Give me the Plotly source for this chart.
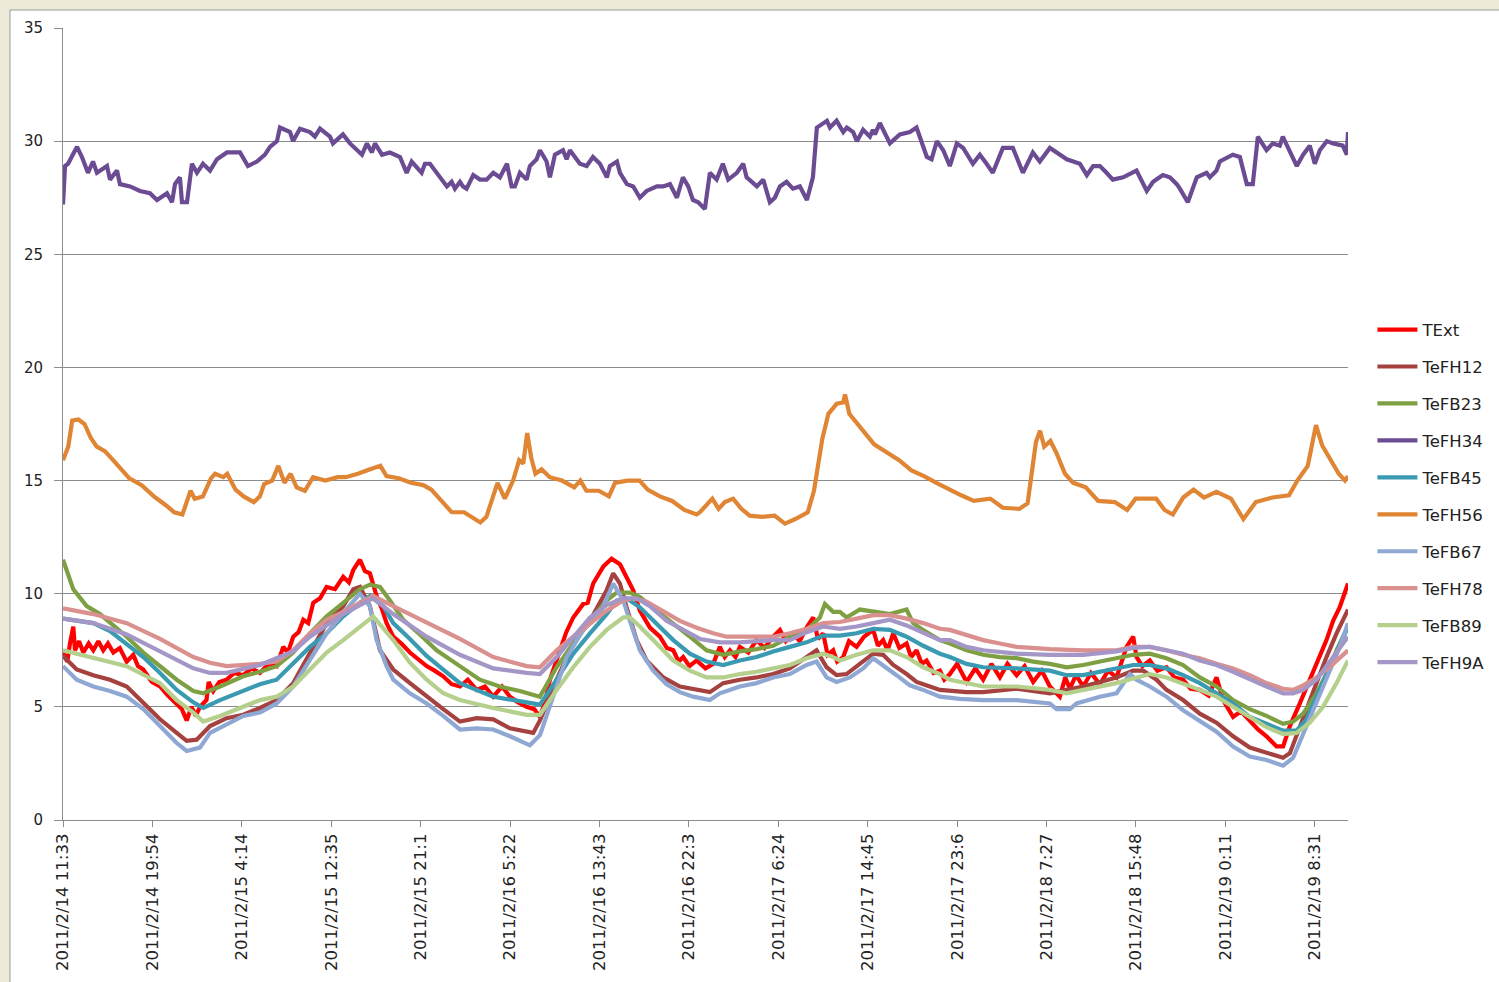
import plotly.graph_objects as go

# ---------------- data (x = sample index expressed in hours from start) ----------------
tick_labels = ["2011/2/14 11:33", "2011/2/14 19:54", "2011/2/15 4:14", "2011/2/15 12:35",
               "2011/2/15 21:1", "2011/2/16 5:22", "2011/2/16 13:43", "2011/2/16 22:3",
               "2011/2/17 6:24", "2011/2/17 14:45", "2011/2/17 23:6", "2011/2/18 7:27",
               "2011/2/18 15:48", "2011/2/19 0:11", "2011/2/19 8:31"]
samples_per_tick = 501          # one category label every 501 one-minute samples
total_samples = 7200

text_x = [0, 0.4, 0.65, 0.96, 1.12, 1.5, 1.9, 2.4, 2.83, 3.3, 3.76, 4.2, 4.7, 5.3, 5.95, 6.56, 7.0, 7.5, 8.3, 9.06,
          9.8, 10.62, 11.1, 11.55, 12.0, 12.4, 12.79, 13.4, 13.6, 14.03, 14.6, 15.28, 16.0, 16.83, 17.6, 18.39, 19.2,
          19.95, 20.57, 21.0, 21.5, 22.0, 22.44, 22.9, 23.37, 24.0, 24.62, 25.4, 26.17, 26.7, 27.11, 27.73, 28.2,
          28.66, 29.29, 29.8, 30.22, 30.84, 31.6, 32.4, 33.2, 33.96, 34.7, 35.51, 36.3, 37.07, 37.8, 38.63, 39.4,
          40.18, 41.0, 41.74, 42.5, 43.3, 44.0, 44.54, 45.0, 45.47, 46.41, 47.0, 47.65, 48.58, 49.0, 49.51, 50.45,
          51.23, 52.01, 52.63, 53.25, 53.87, 54.81, 55.74, 56.4, 56.99, 57.5, 57.92, 58.5, 59.17, 60.0, 60.72, 61.34,
          61.8, 62.28, 62.8, 63.21, 64.0, 64.77, 65.5, 66.32, 66.95, 67.5, 68.19, 68.8, 69.44, 70.06, 70.5, 70.99,
          71.4, 71.92, 72.3, 72.86, 73.4, 74.11, 74.8, 75.66, 76.1, 76.59, 77.0, 77.53, 78.1, 78.78, 79.2, 79.71,
          80.2, 80.64, 81.3, 81.89, 82.3, 82.82, 83.5, 84.38, 85.2, 85.93, 86.7, 87.49, 88.2, 89.05, 89.8, 90.6,
          91.4, 92.16, 93.09, 93.6, 94.02, 94.6, 95.27, 96.0, 96.83, 97.6, 98.38, 99.32, 99.94, 100.25, 100.8,
          101.49, 102.2, 103.05, 103.8, 104.6, 105.3, 106.16, 107.0, 107.72, 108.34, 109.27, 110.0, 110.83, 111.6,
          112.39, 113.32, 113.94, 114.57, 115.5, 116.43, 117.06, 117.99, 118.61, 119.23, 120.0]
text_y = [7.4, 7.0, 7.8, 8.55, 7.5, 7.9, 7.4, 7.8, 7.5, 7.9, 7.5, 7.8, 7.4, 7.6, 7.0, 7.3, 6.8, 6.65, 6.1, 5.9,
          5.5, 5.15, 4.9, 4.4, 5.0, 4.6, 5.0, 5.3, 6.1, 5.7, 6.1, 6.2, 6.5, 6.4, 6.7, 6.5, 6.9,
          6.8, 7.65, 7.4, 8.1, 8.3, 8.85, 8.7, 9.6, 9.8, 10.3, 10.2, 10.75, 10.5, 11.05, 11.5, 11.0,
          10.9, 9.9, 9.3, 8.7, 8.1, 7.8, 7.4, 7.1, 6.8, 6.6, 6.35, 6.0, 5.9, 6.2, 5.75, 5.9,
          5.45, 5.9, 5.45, 5.2, 5.0, 4.9, 4.55, 5.2, 6.2, 7.5, 8.3, 8.95, 9.55, 9.6, 10.45, 11.2,
          11.55, 11.3, 10.7, 10.15, 9.25, 8.5, 8.1, 7.6, 7.5, 7.0, 7.2, 6.8, 7.05, 6.7, 6.9, 7.65,
          7.2, 7.5, 7.2, 7.65, 7.4, 7.95, 7.6, 8.1, 8.4, 7.9, 8.25, 7.9, 8.5, 8.95, 8.0, 8.25,
          7.3, 7.5, 7.0, 7.2, 7.9, 7.65, 8.1, 8.4, 7.7, 7.95, 7.5, 8.25, 7.6, 7.8, 7.2, 7.5,
          6.9, 7.05, 6.5, 6.6, 6.2, 6.45, 6.9, 6.1, 6.7, 6.2, 6.9, 6.3, 6.9, 6.4, 6.8, 6.1,
          6.6, 5.9, 5.45, 6.3, 5.8, 6.4, 5.9, 6.5, 6.0, 6.6, 6.3, 7.65, 8.1, 7.2, 6.8,
          7.05, 6.6, 6.75, 6.3, 6.2, 5.8, 5.75, 5.5, 6.3, 5.3, 4.55, 4.8, 4.4, 4.0,
          3.7, 3.25, 3.25, 4.15, 5.15, 6.2, 6.9, 7.95, 8.8, 9.4, 10.45]

fh12_x = [0, 1.28, 2.83, 4.39, 5.95, 7.50, 9.06, 10.62, 11.55, 12.48, 13.73, 15.28, 16.83, 18.39, 19.95, 21.50,
          23.06, 24.62, 26.17, 27.11, 27.73, 28.66, 29.60, 30.84, 32.40, 33.96, 35.51, 37.07, 38.63, 40.18, 41.74,
          43.91, 44.54, 46.10, 47.65, 49.21, 50.77, 51.38, 52.01, 52.63, 53.57, 54.50, 56.05, 57.61, 59.17, 60.41,
          61.65, 63.21, 64.77, 66.32, 67.88, 69.44, 70.37, 71.31, 72.24, 73.17, 74.42, 75.66, 76.59, 77.53, 78.78,
          79.71, 80.95, 81.89, 84.38, 85.93, 89.05, 92.16, 93.72, 95.27, 96.83, 98.38, 99.94, 100.87, 102.12,
          103.05, 104.60, 106.16, 107.72, 109.27, 110.83, 112.39, 113.94, 114.57, 115.50, 117.06, 117.99, 118.93,
          120.0]
fh12_y = [7.25, 6.65, 6.4, 6.2, 5.9, 5.15, 4.45, 3.85, 3.5, 3.55, 4.15, 4.5, 4.65, 4.95, 5.3, 6.05,
          7.4, 8.7, 9.45, 10.2, 10.3, 9.45, 7.5, 6.65, 6.05, 5.45, 4.9, 4.35, 4.5, 4.45, 4.05,
          3.85, 4.4, 6.2, 7.8, 8.8, 10.15, 10.9, 10.45, 9.4, 7.95, 7.05, 6.3, 5.9, 5.75, 5.65,
          6.05, 6.2, 6.3, 6.45, 6.7, 7.2, 7.5, 6.75, 6.4, 6.45, 6.9, 7.35, 7.3, 6.85, 6.45,
          6.1, 5.9, 5.75, 5.65, 5.65, 5.8, 5.6, 5.75, 5.9, 6.1, 6.3, 6.6, 6.6, 6.2,
          5.75, 5.3, 4.7, 4.3, 3.7, 3.2, 2.95, 2.75, 2.95, 4.15, 6.05, 7.2, 8.25,
          9.3]

fb23_x = [0, 0.96, 2.21, 3.45, 4.70, 5.95, 7.50, 9.06, 10.62, 12.17, 13.10, 14.66, 16.83, 18.39, 19.95, 21.50,
          23.06, 24.62, 26.17, 27.73, 28.66, 29.60, 30.53, 31.77, 33.33, 34.89, 37.06, 38.93, 40.79, 42.66, 44.53,
          46.09, 47.65, 49.20, 50.76, 51.70, 52.94, 53.87, 55.43, 56.98, 58.54, 60.10, 61.65, 63.21, 64.77, 66.32,
          67.88, 69.44, 70.68, 71.15, 71.92, 72.55, 73.17, 74.42, 75.66, 77.22, 78.78, 79.39, 80.33, 81.88, 82.82,
          84.38, 85.93, 87.49, 89.05, 90.60, 92.16, 93.72, 95.27, 96.83, 98.39, 99.94, 101.49, 103.05, 104.60,
          106.16, 107.72, 109.27, 110.83, 112.39, 113.94, 114.88, 115.81, 117.06, 117.99, 118.93, 120.0]
fb23_y = [11.5, 10.2, 9.45, 9.1, 8.6, 8.1, 7.4, 6.8, 6.2, 5.7, 5.6, 5.9, 6.35, 6.55, 6.8, 7.4,
          8.25, 9.0, 9.6, 10.2, 10.4, 10.3, 9.7, 8.85, 8.2, 7.5, 6.8, 6.2, 5.9, 5.7, 5.45,
          6.75, 7.8, 8.8, 9.7, 10.05, 10.05, 9.85, 9.25, 8.7, 8.1, 7.5, 7.3, 7.45, 7.55, 7.7,
          8.1, 8.4, 8.95, 9.55, 9.2, 9.2, 8.95, 9.3, 9.2, 9.1, 9.3, 8.7, 8.4, 7.95, 7.8,
          7.5, 7.3, 7.2, 7.15, 7.0, 6.9, 6.75, 6.85, 7.0, 7.15, 7.3, 7.35, 7.15, 6.85,
          6.3, 5.9, 5.3, 4.9, 4.6, 4.25, 4.35, 4.7, 5.6, 6.45, 7.5, 8.55]

fh34_x = [0, 0.19, 0.47, 1.31, 1.77, 2.33, 2.80, 3.17, 4.11, 4.39, 5.04, 5.32, 6.26, 7.19, 8.12, 8.78, 9.71,
          10.18, 10.46, 10.92, 11.11, 11.58, 12.04, 12.51, 13.07, 13.73, 14.38, 15.31, 16.53, 17.27, 18.11, 18.86,
          19.33, 19.98, 20.26, 21.20, 21.48, 22.13, 23.06, 23.53, 24.00, 24.93, 25.21, 26.14, 26.80, 27.92, 28.38,
          28.85, 29.13, 29.79, 30.53, 31.47, 32.09, 32.56, 33.49, 33.80, 34.27, 34.73, 35.36, 35.85, 36.29, 36.60,
          37.07, 37.35, 37.69, 38.31, 38.94, 39.56, 40.18, 40.80, 41.46, 41.89, 42.20, 42.67, 43.30, 43.60, 44.23,
          44.54, 45.16, 45.47, 45.94, 46.69, 47.03, 47.34, 48.27, 48.90, 49.49, 50.14, 50.79, 51.07, 51.73, 52.01,
          52.66, 53.25, 53.87, 54.50, 55.46, 56.05, 56.68, 57.33, 57.89, 58.39, 58.82, 59.32, 59.94, 60.41, 61.04,
          61.62, 62.12, 62.93, 63.52, 63.84, 64.80, 65.39, 66.01, 66.48, 66.95, 67.57, 68.16, 68.81, 69.47, 70.03,
          70.40, 71.34, 71.62, 72.24, 72.86, 73.20, 73.79, 74.14, 74.72, 75.35, 75.63, 75.82, 76.28, 77.22, 78.15,
          79.09, 79.71, 80.18, 80.67, 81.11, 81.61, 82.20, 82.82, 83.47, 84.06, 84.97, 85.62, 86.25, 86.83, 87.77,
          88.70, 89.05, 89.64, 90.57, 91.22, 92.16, 93.09, 93.74, 94.96, 95.61, 96.20, 96.83, 97.45, 98.04, 99.00,
          99.91, 100.25, 101.21, 101.80, 102.71, 103.36, 104.01, 104.30, 105.04, 105.88, 106.79, 107.10, 107.72,
          108.03, 109.24, 109.90, 110.55, 111.11, 111.58, 112.39, 112.98, 113.63, 113.91, 114.57, 115.22, 115.81,
          116.43, 116.90, 117.37, 118.02, 118.61, 119.51, 119.89, 120.0]
fh34_y = [27.2, 28.9, 29.0, 29.75, 29.3, 28.6, 29.1, 28.6, 28.9, 28.3, 28.7, 28.1, 28.0, 27.8, 27.7, 27.4, 27.7,
          27.3, 28.1, 28.4, 27.3, 27.3, 29.0, 28.6, 29.0, 28.7, 29.2, 29.5, 29.5, 28.9, 29.1, 29.4,
          29.75, 30.0, 30.6, 30.4, 30.0, 30.55, 30.4, 30.2, 30.55, 30.2, 29.9, 30.3, 29.9, 29.4, 29.9,
          29.5, 29.9, 29.4, 29.5, 29.3, 28.6, 29.1, 28.6, 29.0, 29.0, 28.7, 28.3, 28.0, 28.2, 27.9,
          28.2, 28.0, 27.9, 28.5, 28.3, 28.3, 28.6, 28.4, 29.0, 28.0, 28.0, 28.6, 28.3, 28.9, 29.2,
          29.6, 29.1, 28.4, 29.4, 29.6, 29.2, 29.6, 29.0, 28.9, 29.3, 29.0, 28.4, 28.9, 29.1, 28.6,
          28.1, 28.0, 27.5, 27.8, 28.0, 28.0, 28.1, 27.5, 28.4, 28.0, 27.4, 27.3, 27.0, 28.6, 28.3,
          29.0, 28.3, 28.6, 29.0, 28.4, 28.0, 28.3, 27.3, 27.5, 28.0, 28.2, 27.9, 28.0, 27.4, 28.4,
          30.6, 30.9, 30.6, 30.9, 30.4, 30.6, 30.4, 30.0, 30.5, 30.2, 30.5, 30.3, 30.8, 29.9, 30.3,
          30.4, 30.6, 30.0, 29.3, 29.2, 30.0, 29.6, 28.9, 29.9, 29.7, 29.0, 29.4, 29.0, 28.6, 29.7,
          29.7, 29.3, 28.6, 29.5, 29.1, 29.7, 29.4, 29.2, 29.0, 28.5, 28.9, 28.9, 28.6, 28.3, 28.4,
          28.6, 28.7, 27.8, 28.2, 28.5, 28.4, 28.1, 27.9, 27.3, 28.4, 28.6, 28.4, 28.7,
          29.1, 29.4, 29.3, 28.1, 28.1, 30.2, 29.6, 29.9, 29.8, 30.2, 29.5, 28.9, 29.4,
          29.8, 29.0, 29.6, 30.0, 29.9, 29.8, 29.4, 30.4]

fb45_x = [0, 2.83, 4.39, 5.95, 7.50, 9.06, 10.62, 12.17, 13.10, 14.66, 16.83, 18.39, 19.95, 21.50, 23.06, 24.62,
          26.17, 27.73, 28.66, 29.91, 30.84, 32.40, 33.96, 35.51, 37.07, 40.18, 43.30, 44.54, 46.10, 47.65, 49.21,
          50.77, 51.70, 52.63, 53.87, 55.43, 56.99, 58.54, 60.10, 61.65, 63.21, 64.77, 66.32, 67.88, 69.44, 70.99,
          72.55, 74.11, 75.66, 77.22, 78.78, 80.33, 81.89, 82.82, 84.38, 85.93, 89.05, 92.16, 93.72, 95.27, 96.83,
          98.38, 99.94, 101.49, 103.05, 104.60, 106.16, 107.72, 109.27, 110.83, 112.39, 113.94, 115.19, 116.12,
          117.06, 117.99, 118.93, 120.0]
fb45_y = [8.9, 8.7, 8.35, 7.8, 7.2, 6.5, 5.75, 5.2, 4.95, 5.3, 5.7, 6.0, 6.2, 6.95, 7.65, 8.25,
          9.0, 9.6, 9.9, 9.45, 8.7, 8.0, 7.25, 6.65, 6.05, 5.45, 5.2, 5.1, 6.2, 7.35, 8.25,
          9.1, 9.7, 9.8, 9.4, 8.7, 7.95, 7.35, 7.0, 6.85, 7.05, 7.2, 7.45, 7.65, 7.85, 8.15,
          8.15, 8.25, 8.45, 8.4, 8.1, 7.7, 7.35, 7.2, 6.9, 6.75, 6.7, 6.6, 6.4, 6.4, 6.55,
          6.7, 6.85, 6.85, 6.7, 6.4, 6.05, 5.6, 5.15, 4.55, 4.25, 3.95, 3.95, 4.45,
          5.45, 6.45, 7.5, 8.55]

fh56_x = [0, 0.10, 0.49, 0.86, 1.44, 2.01, 2.58, 3.15, 3.91, 4.68, 5.43, 6.20, 7.34, 8.49, 9.63, 10.39, 11.15,
          11.91, 12.30, 13.06, 13.82, 14.20, 14.97, 15.34, 16.11, 16.87, 17.82, 18.39, 18.78, 19.53, 20.11, 20.68,
          21.25, 21.82, 22.59, 23.35, 24.49, 25.64, 26.40, 27.54, 28.68, 29.64, 30.21, 31.35, 32.49, 33.64, 34.40,
          35.16, 36.30, 37.45, 38.21, 38.97, 39.54, 40.12, 40.58, 41.26, 42.03, 42.60, 42.98, 43.35, 43.73, 44.12,
          44.69, 45.45, 46.59, 47.74, 48.31, 48.88, 50.03, 50.98, 51.55, 52.69, 53.84, 54.60, 55.74, 56.88, 58.03,
          59.17, 59.48, 60.25, 60.64, 61.22, 61.80, 62.58, 63.35, 64.13, 65.28, 66.45, 67.42, 68.38, 69.55, 70.13,
          70.52, 70.91, 71.48, 72.26, 72.85, 73.03, 73.43, 74.20, 74.98, 75.75, 76.91, 78.08, 79.23, 80.40, 81.56,
          82.73, 83.88, 85.05, 86.60, 87.76, 89.31, 90.08, 90.48, 90.86, 91.24, 91.63, 92.21, 92.79, 93.57, 94.34,
          95.51, 96.67, 98.22, 99.38, 100.16, 102.09, 102.87, 103.64, 104.61, 105.58, 106.55, 107.71, 109.07,
          110.23, 111.39, 112.94, 114.49, 115.27, 116.24, 117.01, 117.59, 118.37, 119.14, 119.72, 120.0]
fh56_y = [15.9, 16.0, 16.5, 17.65, 17.7, 17.5, 16.9, 16.5, 16.3, 15.9, 15.5, 15.1, 14.8, 14.3, 13.9, 13.6, 13.5,
          14.55, 14.2, 14.3, 15.1, 15.3, 15.15, 15.3, 14.6, 14.3, 14.05, 14.3, 14.85, 15.0, 15.65, 14.9,
          15.3, 14.7, 14.55, 15.15, 15.0, 15.15, 15.15, 15.3, 15.5, 15.65, 15.2, 15.1, 14.9, 14.8, 14.6,
          14.2, 13.6, 13.6, 13.4, 13.15, 13.4, 14.25, 14.9, 14.2, 15.0, 15.9, 15.75, 17.1, 16.0, 15.3,
          15.5, 15.15, 15.0, 14.7, 15.0, 14.55, 14.55, 14.3, 14.9, 15.0, 15.0, 14.6, 14.3, 14.1, 13.7,
          13.5, 13.6, 14.0, 14.2, 13.75, 14.05, 14.2, 13.75, 13.45, 13.4, 13.45, 13.1, 13.3, 13.6, 14.55,
          15.75, 16.85, 17.95, 18.4, 18.45, 18.8, 17.95, 17.5, 17.0, 16.6, 16.25, 15.9, 15.45, 15.2, 14.9,
          14.6, 14.35, 14.1, 14.2, 13.8, 13.75, 14.0, 15.3, 16.7, 17.2, 16.5, 16.75, 16.2, 15.3, 14.9,
          14.7, 14.1, 14.05, 13.7, 14.2, 14.2, 13.7, 13.5, 14.25, 14.6, 14.25, 14.5, 14.2,
          13.3, 14.05, 14.25, 14.35, 15.0, 15.65, 17.45, 16.55, 15.9, 15.3, 15.0, 15.2]

fb67_x = [0, 1.28, 2.83, 4.39, 5.95, 7.50, 9.06, 10.62, 11.55, 12.79, 13.73, 15.28, 16.83, 18.39, 19.95, 21.50,
          23.06, 24.62, 26.17, 27.73, 28.66, 29.29, 30.22, 30.84, 32.40, 33.96, 35.51, 37.07, 38.63, 40.18, 41.74,
          43.60, 44.54, 45.47, 47.03, 48.58, 50.14, 51.38, 52.32, 52.94, 53.87, 55.12, 56.37, 57.61, 58.85, 60.41,
          61.34, 63.21, 64.77, 66.32, 67.88, 69.44, 70.37, 71.31, 72.24, 73.48, 74.72, 75.66, 76.59, 77.84, 79.08,
          80.33, 81.89, 83.75, 85.93, 89.05, 92.16, 92.78, 94.02, 94.65, 96.83, 98.38, 99.63, 100.25, 101.49,
          103.05, 104.60, 106.16, 107.72, 109.27, 110.83, 112.39, 113.94, 114.88, 115.81, 117.06, 118.30, 119.23,
          120.0]
fb67_y = [6.8, 6.2, 5.9, 5.7, 5.45, 4.9, 4.15, 3.4, 3.05, 3.2, 3.85, 4.2, 4.6, 4.75, 5.15, 5.9,
          7.1, 8.25, 9.15, 10.0, 9.45, 7.95, 6.8, 6.2, 5.6, 5.15, 4.6, 4.0, 4.05, 4.0, 3.7,
          3.3, 3.75, 5.0, 7.2, 8.4, 9.1, 10.45, 9.7, 8.8, 7.5, 6.6, 6.0, 5.65, 5.45, 5.3,
          5.6, 5.9, 6.05, 6.3, 6.45, 6.85, 7.0, 6.3, 6.1, 6.3, 6.7, 7.15, 6.85, 6.4, 5.95,
          5.75, 5.45, 5.35, 5.3, 5.3, 5.15, 4.9, 4.9, 5.15, 5.45, 5.6, 6.45, 6.2, 5.9,
          5.45, 4.85, 4.35, 3.9, 3.25, 2.8, 2.65, 2.4, 2.75, 3.8, 5.3, 6.6, 7.65,
          8.7]

fh78_x = [0, 2.83, 5.95, 9.06, 12.17, 13.73, 15.28, 18.39, 19.95, 21.50, 23.06, 24.62, 26.17, 27.73, 28.97, 30.84,
          33.96, 37.07, 40.18, 43.30, 44.54, 46.10, 47.65, 49.21, 50.77, 52.32, 53.25, 54.50, 56.05, 57.61, 59.17,
          60.72, 61.97, 66.32, 67.88, 69.44, 70.99, 72.55, 74.11, 75.66, 77.22, 78.78, 80.33, 81.89, 82.82, 84.38,
          85.93, 87.49, 89.05, 92.16, 95.27, 98.38, 99.94, 101.49, 103.05, 104.60, 106.16, 107.72, 109.27, 110.83,
          112.39, 113.94, 114.88, 115.81, 117.06, 118.61, 120.0]
fh78_y = [9.35, 9.1, 8.7, 8.0, 7.2, 6.95, 6.8, 6.9, 7.0, 7.5, 8.25, 8.85, 9.2, 9.6, 9.9, 9.45,
          8.7, 8.0, 7.2, 6.8, 6.75, 7.5, 8.1, 8.7, 9.25, 9.7, 9.8, 9.65, 9.25, 8.8, 8.5,
          8.25, 8.1, 8.1, 8.25, 8.45, 8.7, 8.75, 8.9, 9.05, 9.05, 8.9, 8.7, 8.45, 8.4, 8.15,
          7.95, 7.8, 7.65, 7.55, 7.5, 7.5, 7.65, 7.65, 7.5, 7.3, 7.15, 6.9, 6.7, 6.4,
          6.05, 5.8, 5.75, 5.95, 6.3, 6.9, 7.5]

fb89_x = [0, 2.83, 5.95, 9.06, 10.62, 12.17, 13.10, 14.66, 16.83, 18.39, 19.95, 21.50, 23.06, 24.62, 26.17, 27.73,
          28.97, 30.84, 32.40, 33.96, 35.51, 37.07, 40.18, 43.30, 44.54, 46.10, 47.65, 49.21, 50.77, 52.32, 52.94,
          53.87, 55.43, 56.99, 58.54, 60.10, 61.65, 63.21, 64.77, 66.32, 67.88, 69.44, 70.99, 71.92, 72.55, 74.11,
          75.66, 77.22, 78.78, 80.33, 81.89, 82.82, 84.38, 85.93, 89.05, 92.16, 93.72, 95.27, 96.83, 98.38, 99.94,
          101.49, 103.05, 104.60, 106.16, 107.72, 109.27, 110.83, 112.39, 113.94, 115.19, 116.43, 117.67, 118.93,
          120.0]
fb89_y = [7.5, 7.15, 6.8, 6.05, 5.3, 4.75, 4.35, 4.6, 5.0, 5.3, 5.45, 5.9, 6.65, 7.4, 7.95, 8.55,
          9.0, 7.95, 6.95, 6.2, 5.6, 5.3, 4.95, 4.65, 4.65, 5.75, 6.75, 7.65, 8.4, 8.95, 8.95,
          8.55, 7.8, 7.05, 6.6, 6.3, 6.3, 6.45, 6.55, 6.7, 6.85, 7.15, 7.35, 7.2, 7.05, 7.3,
          7.5, 7.5, 7.2, 6.75, 6.45, 6.2, 6.05, 5.9, 5.9, 5.75, 5.6, 5.75, 5.9, 6.05, 6.25,
          6.45, 6.3, 6.05, 5.75, 5.45, 5.0, 4.5, 4.1, 3.8, 3.85, 4.3, 5.0, 6.05,
          7.05]

fh9a_x = [0, 2.83, 5.95, 9.06, 12.17, 13.73, 15.28, 18.39, 21.50, 23.06, 24.62, 26.17, 27.73, 28.97, 30.84, 33.96,
          37.07, 40.18, 43.30, 44.54, 46.10, 47.65, 49.21, 50.77, 52.32, 53.57, 54.81, 56.37, 57.92, 59.48, 61.34,
          63.21, 66.32, 67.88, 69.44, 70.99, 72.55, 74.11, 75.66, 77.22, 78.78, 80.33, 81.89, 82.82, 84.38, 85.93,
          89.05, 92.16, 95.27, 98.38, 99.94, 101.49, 103.05, 104.60, 106.16, 107.72, 109.27, 110.83, 112.39, 113.94,
          114.88, 115.81, 117.06, 118.61, 120.0]
fh9a_y = [8.9, 8.7, 8.2, 7.45, 6.7, 6.5, 6.5, 6.85, 7.45, 8.1, 8.6, 9.1, 9.5, 9.8, 9.1, 8.1,
          7.3, 6.7, 6.5, 6.45, 7.2, 8.1, 8.95, 9.5, 9.8, 9.8, 9.45, 8.8, 8.4, 8.0, 7.85,
          7.85, 7.95, 7.95, 8.3, 8.55, 8.45, 8.55, 8.7, 8.85, 8.6, 8.3, 7.95, 7.95, 7.65, 7.5,
          7.35, 7.3, 7.3, 7.45, 7.6, 7.65, 7.5, 7.35, 7.05, 6.85, 6.55, 6.2, 5.9, 5.6,
          5.6, 5.75, 6.2, 7.2, 8.1]

series_names = ["TExt", "TeFH12", "TeFB23", "TeFH34", "TeFB45", "TeFH56", "TeFB67", "TeFH78", "TeFB89", "TeFH9A"]
series_x = [text_x, fh12_x, fb23_x, fh34_x, fb45_x, fh56_x, fb67_x, fh78_x, fb89_x, fh9a_x]
series_y = [text_y, fh12_y, fb23_y, fh34_y, fb45_y, fh56_y, fb67_y, fh78_y, fb89_y, fh9a_y]
series_colors = ["#FF0000", "#A5423F", "#7EA043", "#6B4C93", "#3A9AB2", "#E08534",
                 "#8EA8D3", "#D9908E", "#B5CF8C", "#A496C6"]

# ---------------- figure ----------------
FONT = "DejaVu Sans"
fig = go.Figure()
for name, xs, ys, col in zip(series_names, series_x, series_y, series_colors):
    fig.add_trace(go.Scatter(x=xs, y=ys, mode="lines", name=name, legendgroup=name,
                             line=dict(color=col, width=4.2), hoverinfo="skip"))

tick_vals = [k * samples_per_tick / 60 for k in range(len(tick_labels))]

fig.update_layout(
    width=1499, height=982,
    margin=dict(l=63, r=151, t=28, b=162, autoexpand=False),
    paper_bgcolor="#ECE9D8",
    plot_bgcolor="#FFFFFF",
    font=dict(family=FONT, size=15, color="#222222"),
    showlegend=True,
    legend=dict(x=1.019, xanchor="left", y=0.641, yanchor="top",
                bgcolor="rgba(0,0,0,0)", font=dict(size=16.5, family=FONT, color="#222222"),
                itemwidth=40, tracegroupgap=12.5, traceorder="grouped"),
    xaxis=dict(range=[0, total_samples / 60], tickvals=tick_vals, ticktext=tick_labels,
               tickangle=-90, showgrid=False, zeroline=False,
               showline=True, linecolor="#8C8C8C", linewidth=1,
               ticks="outside", ticklen=6, tickcolor="#8C8C8C",
               tickfont=dict(size=16.5, family=FONT, color="#222222")),
    yaxis=dict(range=[0, 35], dtick=5, tick0=0, showgrid=True, gridcolor="#8C8C8C", gridwidth=1,
               zeroline=False, showline=True, linecolor="#8C8C8C", linewidth=1,
               ticks="outside", ticklen=8, tickcolor="#8C8C8C", ticklabelstandoff=8,
               tickfont=dict(size=15, family=FONT, color="#222222")),
    shapes=[dict(type="rect", xref="paper", yref="paper", layer="below",
                 x0=(10 - 63) / 1285, x1=(1520 - 63) / 1285,
                 y0=(820 - 1000) / 792, y1=(820 - 10) / 792,
                 fillcolor="#FFFFFF", line=dict(color="#9C9C9C", width=1))],
)

# remove the default page margin so the 1499x982 figure fills the window exactly
fig.write_html("out.html", config={"displayModeBar": False},
               post_script="document.body.style.margin='0';document.body.style.background='#ECE9D8';")
